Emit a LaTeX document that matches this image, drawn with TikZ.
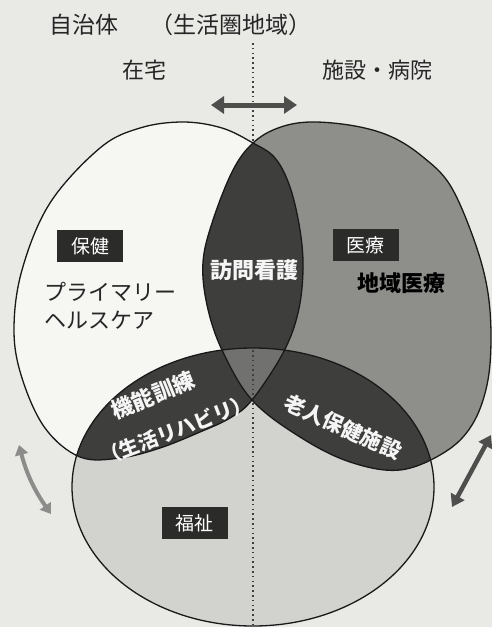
\documentclass[tikz,border=0pt]{standalone}
\usepackage{fontspec}
\newfontfamily\jp{Noto Sans CJK JP}
\usetikzlibrary{arrows.meta}
\definecolor{paper}{HTML}{E9E9E6}
\definecolor{lfill}{HTML}{F6F6F3}
\definecolor{rfill}{HTML}{8E8E8B}
\definecolor{bfill}{HTML}{D2D2CF}
\definecolor{dark}{HTML}{3E3E3C}
\definecolor{mid}{HTML}{717170}
\definecolor{tagblack}{HTML}{2B2B2A}
\definecolor{arrowdark}{HTML}{4E4E4C}
\definecolor{arrowlight}{HTML}{8C8C8A}
\newcommand\jpsize[1]{\fontsize{#1}{#1}\selectfont}
\def\Lpath{plot[smooth cycle, tension=0.6] coordinates {(183,122) (222,128) (253,143) (275,158) (290,187) (300,230) (303,270) (298,313) (283,353) (252,400) (230,418) (200,432) (160,448) (120,458) (80,457) (45,428) (22,378) (14,330) (22,270) (50,203) (100,148) (140,128)}}
\def\Rpath{plot[smooth cycle, tension=0.6] coordinates {(310,122) (355,126) (392,137) (423,157) (450,185) (473,237) (487,287) (491,337) (487,385) (472,425) (445,452) (400,470) (350,462) (300,437) (252,400) (222,350) (207,305) (203,262) (213,220) (233,170) (253,143) (278,128)}}
\def\Bpath{(253,487) ellipse [x radius=181, y radius=139]}
\tikzset{
  outline/.style={draw=black!90, line width=1.3pt},
  lbl/.style={font={\jp\jpsize{22}}, inner sep=0pt, text=black!85},
  tagbox/.style={fill=tagblack, text=white, font={\jp\jpsize{19}}, minimum width=66pt, minimum height=32pt, inner sep=0pt},
  onDark/.style={text=white!92!gray, font={\jp\bfseries\jpsize{22}}, inner sep=0pt},
  bigarrow/.style={line width=5pt, arrowdark, {Triangle[width=17pt,length=13pt]}-{Triangle[width=17pt,length=13pt]}},
}
\begin{document}
\begin{tikzpicture}[x=1pt, y=-1pt]
\useasboundingbox (0,0) rectangle (492,627);
\fill[paper] (0,0) rectangle (492,627);
% base fills
\fill[lfill] \Lpath;
\fill[rfill] \Rpath;
\fill[bfill] \Bpath;
% pairwise intersections
\begin{scope}
  \clip \Lpath;
  \fill[dark] \Rpath;
  \fill[dark] \Bpath;
\end{scope}
\begin{scope}
  \clip \Rpath;
  \fill[dark] \Bpath;
\end{scope}
% triple intersection
\begin{scope}
  \clip \Lpath;
  \clip \Rpath;
  \fill[mid] \Bpath;
\end{scope}
% dotted divider
\coordinate (dtop) at (253,43);
\coordinate (dbot) at (253,625);
\draw[black!75, line width=1.4pt, dash pattern=on 1.6pt off 3.2pt] (dtop) -- (dbot);
% outlines
\draw[outline] \Lpath;
\draw[outline] \Rpath;
\draw[outline] \Bpath;
% header texts
\node[lbl, font={\jp\jpsize{23}}] (jichitai) at (84,25) {自治体};
\node[lbl, font={\jp\jpsize{23}}] (seikatsu) at (231,25) {（生活圏地域）};
\node[lbl] (zaitaku) at (144,70) {在宅};
\node[lbl] (shisetsu) at (377,70) {施設・病院};
% arrows
\coordinate (ta1) at (211,105);
\coordinate (ta2) at (297,105);
\draw[bigarrow] (ta1) -- (ta2);
\coordinate (la1) at (19,445);
\coordinate (la2) at (51,514);
\draw[line width=4pt, arrowlight, {Triangle[width=13pt,length=10pt]}-{Triangle[width=13pt,length=10pt]}] (la1) to[bend right=10] (la2);
\coordinate (ra1) at (491,435);
\coordinate (ra2) at (452,507);
\draw[bigarrow, line width=4.5pt, {Triangle[width=15pt,length=12pt]}-{Triangle[width=15pt,length=12pt]}] (ra1) -- (ra2);
% labels
\node[tagbox] (hoken) at (90,246) {保健};
\node[lbl, anchor=west] (primary) at (44,292) {プライマリー};
\node[lbl, anchor=west] (healthcare) at (44,320) {ヘルスケア};
\node[tagbox] (iryo) at (365.5,245) {医療};
\node[lbl, font={\jp\bfseries\jpsize{22}}, text=black] (chiiki) at (401,283) {地域医療};
\node[onDark] (houmon) at (254,270) {訪問看護};
\node[onDark, rotate=22] (kinou) at (153,395) {機能訓練};
\node[onDark, rotate=21, font={\jp\bfseries\jpsize{20}}] (rehab) at (176,430) {（生活リハビリ）};
\node[onDark, rotate=-24, font={\jp\bfseries\jpsize{21}}] (roujin) at (343,427) {老人保健施設};
\node[tagbox] (fukushi) at (194.5,523) {福祉};
\end{tikzpicture}
\end{document}
